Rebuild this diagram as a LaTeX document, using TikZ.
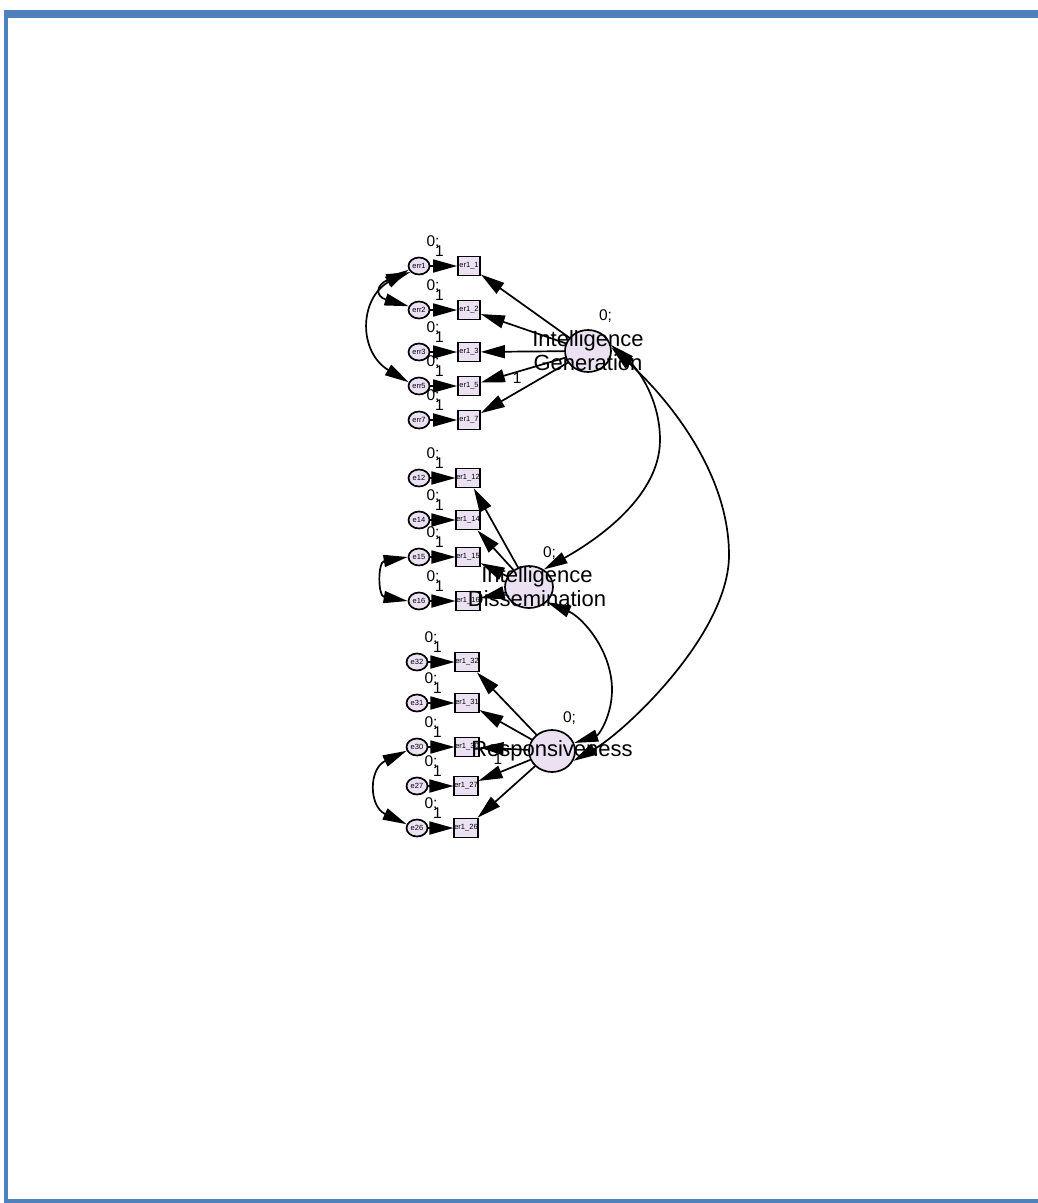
\documentclass[tikz,border=0pt]{standalone}
\usepackage{fontspec}
\setmainfont{Liberation Sans}
\usetikzlibrary{arrows.meta,shapes.geometric}
\definecolor{framebl}{HTML}{4F81BD}
\definecolor{semfill}{HTML}{EBE1F3}
\begin{document}
\begin{tikzpicture}[x=1pt,y=-1pt,line cap=round,
  err/.style={ellipse,draw,line width=1.7pt,fill=semfill,minimum width=21pt,minimum height=17pt,inner sep=0pt,font=\fontsize{7.5}{8}\selectfont},
  obs/.style={rectangle,draw,line width=1.7pt,fill=semfill,minimum width=22pt,minimum height=19pt,inner sep=0pt,font=\fontsize{7.5}{8}\selectfont},
  lat/.style={ellipse,draw,line width=1.7pt,fill=semfill,minimum width=46pt,minimum height=42pt,inner sep=0pt},
  lattext/.style={align=center,inner sep=0pt,font=\fontsize{22}{24}\selectfont},
  num/.style={inner sep=0pt,font=\fontsize{15.5}{15.5}\selectfont},
  regr/.style={line width=1.7pt,-{Triangle[length=24pt,width=13pt]}},
  covar/.style={line width=1.7pt,{Triangle[length=24pt,width=12pt]}-{Triangle[length=24pt,width=12pt]}}]
\useasboundingbox (0,0) rectangle (1038,1203);
% frame
\fill[framebl] (4,10) rectangle (1038,18);
\fill[framebl] (4,10) rectangle (8,1203);
\fill[framebl] (4,1199) rectangle (1038,1203);
% latent variables
\node[lat] (IG) at (588,351) {};
\node[lat,minimum width=48pt] (ID) at (529,587) {};
\node[lat] (R) at (552,751) {};
% intelligence generation items
\node[err] (err1) at (419,266) {err1}; \node[obs] (b1) at (469,266) {er1\_1};
\node[err] (err2) at (419,310) {err2}; \node[obs] (b2) at (469,310) {er1\_2};
\node[err] (err3) at (419,352) {err3}; \node[obs] (b3) at (469,352) {er1\_3};
\node[err] (err5) at (419,386) {err5}; \node[obs] (b5) at (469,386) {er1\_5};
\node[err] (err7) at (419,420) {err7}; \node[obs] (b7) at (469,420) {er1\_7};
% intelligence dissemination items
\node[err] (e12) at (419,478) {e12}; \node[obs] (b12) at (468,478) {er1\_12};
\node[err] (e14) at (419,520) {e14}; \node[obs] (b14) at (468,520) {er1\_14};
\node[err] (e15) at (419,557) {e15}; \node[obs] (b15) at (468,557) {er1\_15};
\node[err] (e16) at (419,601) {e16}; \node[obs] (b16) at (468,601) {er1\_16};
% responsiveness items
\node[err] (e32) at (417,662) {e32}; \node[obs] (b32) at (467,662) {er1\_32};
\node[err] (e31) at (417,703) {e31}; \node[obs] (b31) at (467,703) {er1\_31};
\node[err] (e30) at (417,747) {e30}; \node[obs] (b30) at (467,747) {er1\_30};
\node[err] (e27) at (417,786) {e27}; \node[obs] (b27) at (466,786) {er1\_27};
\node[err] (e26) at (417,828) {e26}; \node[obs] (b26) at (466,828) {er1\_26};
% error -> item
\draw[regr] (err1) -- (b1); \draw[regr] (err2) -- (b2); \draw[regr] (err3) -- (b3);
\draw[regr] (err5) -- (b5); \draw[regr] (err7) -- (b7);
\draw[regr] (e12) -- (b12); \draw[regr] (e14) -- (b14); \draw[regr] (e15) -- (b15);
\draw[regr] (e16) -- (b16);
\draw[regr] (e32) -- (b32); \draw[regr] (e31) -- (b31); \draw[regr] (e30) -- (b30);
\draw[regr] (e27) -- (b27); \draw[regr] (e26) -- (b26);
% latent -> item
\draw[regr] (IG) -- (b1); \draw[regr] (IG) -- (b2); \draw[regr] (IG) -- (b3);
\draw[regr] (IG) -- node[num,pos=0.57,yshift=-6pt] (oneIG) {1} (b5);
\draw[regr] (IG) -- (b7);
\draw[regr] (ID) -- (b12); \draw[regr] (ID) -- (b14); \draw[regr] (ID) -- (b15);
\draw[regr] (ID) -- (b16);
\draw[regr] (R) -- (b32); \draw[regr] (R) -- (b31);
\draw[regr] (R) -- node[num,pos=0.62,yshift=-11pt] (oneR) {1} (b30);
\draw[regr] (R) -- (b27); \draw[regr] (R) -- (b26);
% error covariances
\draw[covar] (err1.200) .. controls +(-50,30) and +(-50,-30) .. (err5.160);
\draw[covar] (err1.215) .. controls +(-34,12) and +(-34,-10) .. (err2.160);
\draw[covar] (e15.west) .. controls +(-30,5) and +(-30,-5) .. (e16.west);
\draw[covar] (e30.200) .. controls +(-38,18) and +(-38,-18) .. (e26.160);
% latent covariances
\coordinate (igid) at (660,440);
\coordinate (igr) at (729,555);
\coordinate (idr) at (612,690);
\draw[covar] (IG.15) .. controls +(28,25) and +(0,-40) .. (igid) .. controls +(0,60) and +(45,-25) .. (ID.50);
\draw[covar] (IG.8) .. controls +(45,40) and +(0,-90) .. (igr) .. controls +(0,80) and +(50,-28) .. (R.-25);
\draw[covar] (ID.-40) .. controls +(35,15) and +(0,-40) .. (idr) .. controls +(0,25) and +(25,-8) .. (R.20);
% intercept / weight labels
\node[num] (zIG) at ([shift={(17.5,-34.5)}]IG.center) {0;};
\node[num] (zID) at ([shift={(20.5,-33.5)}]ID.center) {0;};
\node[num] (zR) at ([shift={(17.5,-32.5)}]R.center) {0;};
\node[num] (zerr1) at ([shift={(14,-24)}]err1.center) {0;}; \node[num] (oerr1) at ([shift={(20.5,-14.5)}]err1.center) {1};
\node[num] (zerr2) at ([shift={(14,-24)}]err2.center) {0;}; \node[num] (oerr2) at ([shift={(20.5,-14.5)}]err2.center) {1};
\node[num] (zerr3) at ([shift={(14,-24)}]err3.center) {0;}; \node[num] (oerr3) at ([shift={(20.5,-14.5)}]err3.center) {1};
\node[num] (zerr5) at ([shift={(14,-24)}]err5.center) {0;}; \node[num] (oerr5) at ([shift={(20.5,-14.5)}]err5.center) {1};
\node[num] (zerr7) at ([shift={(14,-24)}]err7.center) {0;}; \node[num] (oerr7) at ([shift={(20.5,-14.5)}]err7.center) {1};
\node[num] (ze12) at ([shift={(14,-24)}]e12.center) {0;}; \node[num] (oe12) at ([shift={(20.5,-14.5)}]e12.center) {1};
\node[num] (ze14) at ([shift={(14,-24)}]e14.center) {0;}; \node[num] (oe14) at ([shift={(20.5,-14.5)}]e14.center) {1};
\node[num] (ze15) at ([shift={(14,-24)}]e15.center) {0;}; \node[num] (oe15) at ([shift={(20.5,-14.5)}]e15.center) {1};
\node[num] (ze16) at ([shift={(14,-24)}]e16.center) {0;}; \node[num] (oe16) at ([shift={(20.5,-14.5)}]e16.center) {1};
\node[num] (ze32) at ([shift={(14,-24)}]e32.center) {0;}; \node[num] (oe32) at ([shift={(20.5,-14.5)}]e32.center) {1};
\node[num] (ze31) at ([shift={(14,-24)}]e31.center) {0;}; \node[num] (oe31) at ([shift={(20.5,-14.5)}]e31.center) {1};
\node[num] (ze30) at ([shift={(14,-24)}]e30.center) {0;}; \node[num] (oe30) at ([shift={(20.5,-14.5)}]e30.center) {1};
\node[num] (ze27) at ([shift={(14,-24)}]e27.center) {0;}; \node[num] (oe27) at ([shift={(20.5,-14.5)}]e27.center) {1};
\node[num] (ze26) at ([shift={(14,-24)}]e26.center) {0;}; \node[num] (oe26) at ([shift={(20.5,-14.5)}]e26.center) {1};
% latent names
\node[lattext] (IGt) at (IG.center) {Intelligence\\Generation};
\node[lattext] (IDt) at ([xshift=8pt]ID.center) {Intelligence\\Dissemination};
\node[lattext] (Rt) at (R.center) {Responsiveness};
\end{tikzpicture}
\end{document}
